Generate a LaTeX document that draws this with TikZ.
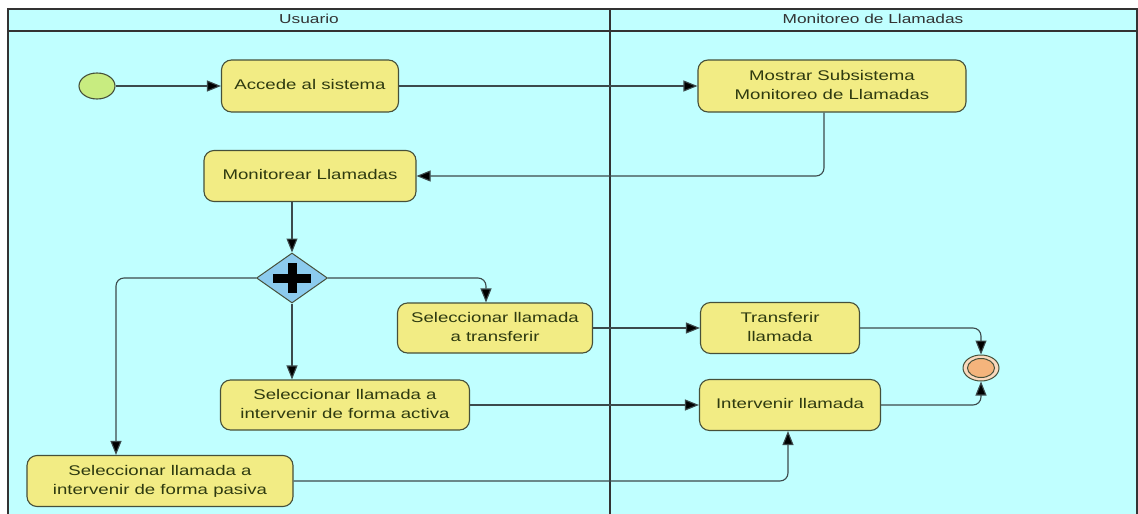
\documentclass[tikz,border=0pt]{standalone}
\usepackage{fontspec}
\setmainfont{Liberation Sans}
\usetikzlibrary{shapes.geometric,arrows.meta}
\definecolor{lanebg}{HTML}{C0FFFF}
\definecolor{actfill}{HTML}{F2EC84}
\definecolor{actdraw}{HTML}{46503A}
\definecolor{startfill}{HTML}{C8EC80}
\definecolor{endfill}{HTML}{F4B47C}
\definecolor{gatefill}{HTML}{8CCBEE}
\definecolor{linecol}{HTML}{3C4A4C}
\definecolor{txtcol}{HTML}{2E3A10}
\newcommand{\wtxt}[1]{\raisebox{-2pt}{\scalebox{1.33}[1]{\begin{tabular}{@{}c@{}}#1\end{tabular}}}}
\tikzset{
  actbox/.style={draw=actdraw, line width=1.1pt, fill=actfill, rounded corners=10pt, align=center, font=\fontsize{14}{19}\selectfont, text=txtcol, inner sep=0pt},
  flow/.style={draw=linecol, line width=1.1pt, rounded corners=8pt, -{Triangle[length=14pt,width=11pt,fill=black]}},
  lane/.style={draw=black!80, line width=1.2pt},
  head/.style={font=\fontsize{13}{16}\selectfont, text=black!80},
}
\begin{document}
\begin{tikzpicture}[x=1pt,y=-1pt]
\useasboundingbox (0,0) rectangle (1138,514);
\fill[white] (0,0) rectangle (1138,514);
\fill[lanebg] (8,9) rectangle (1138,514);
\draw[lane] (8,514) -- (8,9) -- (1137,9) -- (1137,514);
\draw[lane] (8,31) -- (1137,31);
\draw[lane] (610,9) -- (610,514);
\node[head] (h1) at (309,20) {\wtxt{Usuario}};
\node[head] (h2) at (873,20) {\wtxt{Monitoreo de Llamadas}};

\node[ellipse, draw=actdraw, line width=1.1pt, fill=startfill, minimum width=36pt, minimum height=26pt, inner sep=0pt] (start) at (97,86) {};
\node[actbox, minimum width=177pt, minimum height=52pt] (acc) at (310,86) {\wtxt{Accede al sistema}};
\node[actbox, minimum width=268pt, minimum height=52pt] (most) at (832,86) {\wtxt{Mostrar Subsistema\\Monitoreo de Llamadas}};
\node[actbox, minimum width=212pt, minimum height=51pt] (mon) at (310,176) {\wtxt{Monitorear Llamadas}};
\node[diamond, draw=actdraw, line width=1pt, fill=gatefill, minimum width=71pt, minimum height=50pt, inner sep=0pt, aspect=1.42] (gate) at (292,278) {};
\fill[black] ([xshift=-19pt,yshift=-4.5pt]gate.center) rectangle ([xshift=19pt,yshift=4.5pt]gate.center);
\fill[black] ([xshift=-4.5pt,yshift=-15pt]gate.center) rectangle ([xshift=4.5pt,yshift=15pt]gate.center);
\node[actbox, minimum width=195pt, minimum height=50pt] (seltr) at (495,328) {\wtxt{Seleccionar llamada\\a transferir}};
\node[actbox, minimum width=249pt, minimum height=50pt] (selac) at (345,405) {\wtxt{Seleccionar llamada a\\intervenir de forma activa}};
\node[actbox, minimum width=266pt, minimum height=51pt] (selpa) at (160,481) {\wtxt{Seleccionar llamada a\\intervenir de forma pasiva}};
\node[actbox, minimum width=159pt, minimum height=51pt] (trans) at (780,328) {\wtxt{Transferir\\llamada}};
\node[actbox, minimum width=181pt, minimum height=51pt] (inter) at (790,405) {\wtxt{Intervenir llamada}};
\node[ellipse, draw=actdraw, line width=1pt, fill=endfill!50!white, minimum width=36pt, minimum height=26pt, inner sep=0pt] (endo) at (981,368) {};
\node[ellipse, draw=actdraw, line width=1pt, fill=endfill, minimum width=27pt, minimum height=19pt, inner sep=0pt] (endi) at (981,368) {};

\draw[flow] (start) -- (acc);
\draw[flow] (acc) -- (most);
\draw[flow] (most.south -| 824,0) |- (mon.east);
\draw[flow] (mon.south -| gate.north) -- (gate.north);
\draw[flow] (gate.east) -| (seltr.north -| 486,0);
\draw[flow] (gate.south) -- (selac.north -| gate.south);
\draw[flow] (gate.west) -| (selpa.north -| 116,0);
\draw[flow] (seltr) -- (trans);
\draw[flow] (selac) -- (inter);
\draw[flow] (selpa.east) -| (inter.south -| 788,0);
\draw[flow] (trans.east) -| (endo.north);
\draw[flow] (inter.east) -| (endo.south);
\end{tikzpicture}
\end{document}
